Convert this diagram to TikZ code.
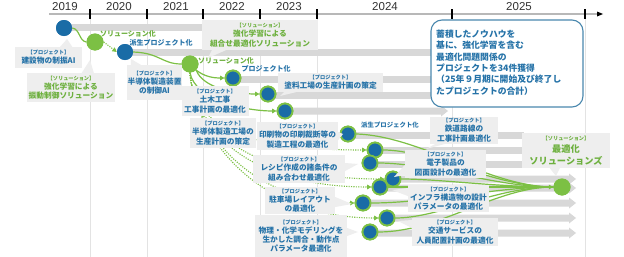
\documentclass[tikz,border=0pt]{standalone}
\usepackage{fontspec}
\setmainfont{Noto Sans CJK JP}
\newfontfamily\yearfont{Liberation Sans}
\usetikzlibrary{arrows.meta}
\definecolor{cblue}{HTML}{1A6CA6}
\definecolor{cgreen}{HTML}{7CC044}
\definecolor{tblue}{HTML}{2673A8}
\definecolor{tgreen}{HTML}{6DB03E}
\definecolor{boxgray}{HTML}{EEEEEE}
\definecolor{bargray}{HTML}{D8D8D8}
\definecolor{gridgray}{HTML}{E3E3E3}
\definecolor{axisgray}{HTML}{B8B8B8}
\definecolor{notecol}{HTML}{4A88AE}
\newcommand\hdr{\fontsize{5.2}{6}\selectfont}
\begin{document}
\begin{tikzpicture}[x=1pt,y=-1pt,
  gridline/.style={draw=gridgray,line width=1pt},
  axisline/.style={draw=axisgray,line width=1.8pt},
  tickmark/.style={draw=black,line width=1.4pt},
  yearlbl/.style={font=\yearfont\fontsize{11.5}{12}\selectfont,text=black!80,inner sep=0pt},
  bar/.style={fill=bargray},
  bcirc/.style={circle,fill=cblue,minimum size=16pt,inner sep=0pt},
  gcirc/.style={circle,fill=cgreen,minimum size=17pt,inner sep=0pt},
  pcirc/.style={circle,fill=cblue,draw=cgreen,line width=1.8pt,minimum size=15pt,inner sep=0pt},
  gline/.style={draw=cgreen,line width=1.2pt},
  gtip/.style={-{Triangle[length=4.5pt,width=4.5pt]}},
  gdot/.style={draw=cgreen,line width=1.1pt,dash pattern=on 1.1pt off 1.3pt},
  callp/.style={fill=boxgray,text=tblue,align=center,inner sep=0pt,font=\fontsize{7.7}{9.2}\selectfont\bfseries},
  calls/.style={callp,text=tgreen},
  ptr/.style={fill=boxgray},
  notebox/.style={draw=notecol,line width=1.1pt,rounded corners=11pt,fill=white,minimum width=152pt,minimum height=87pt,inner sep=0pt},
  notetxt/.style={text=tblue,align=left,inner sep=0pt,font=\fontsize{8.8}{11.4}\selectfont\bfseries},
  gtext/.style={text=tgreen,font=\fontsize{7}{8}\selectfont\bfseries,inner sep=0pt},
  btext/.style={text=tblue,font=\fontsize{7}{8}\selectfont\bfseries,inner sep=0pt}
]
\useasboundingbox (0,0) rectangle (624,257);
\fill[white] (0,0) rectangle (624,257);

% grid and axis
\foreach \x in {90,147,203,260,317,452,585} \draw[gridline] (\x,14) -- (\x,257);
\draw[axisline] (49,14) -- (598,14);
\fill[black] (597,11.5) -- (603,14) -- (597,16.5) -- cycle;
\foreach \x in {90,147,203,260,317,452,585} \draw[tickmark] (\x,9) -- (\x,19);
\node[yearlbl] (y2019) at (65,7) {2019};
\node[yearlbl] (y2020) at (119,7) {2020};
\node[yearlbl] (y2021) at (176,7) {2021};
\node[yearlbl] (y2022) at (232,7) {2022};
\node[yearlbl] (y2023) at (289,7) {2023};
\node[yearlbl] (y2024) at (385,7) {2024};
\node[yearlbl] (y2025) at (519,7) {2025};

% gray bars
\foreach \xa/\xb/\yy in {64/260/27, 125/434/52, 233/434/79, 268/434/95, 348/524/135, 375/524/150, 370/524/164}
  \fill[bar] (\xa,\yy-3.5) rectangle (\xb,\yy+3.5);
\foreach \xa/\xb/\yy in {285/441/111, 393/569/179, 380/569/188, 363/569/203, 387/569/218, 370/569/233}
  \fill[bar] (\xa,\yy-3.5) -- (\xb,\yy-3.5) -- (\xb,\yy-5.5) -- (\xb+7,\yy) -- (\xb,\yy+5.5) -- (\xb,\yy+3.5) -- (\xa,\yy+3.5) -- cycle;

% circles (nodes)
\node[bcirc] (c0) at (64,28) {};
\node[gcirc] (g1) at (95,42) {};
\node[bcirc] (c1) at (125,52) {};
\node[gcirc] (g2) at (190,64) {};
\node[pcirc] (p1) at (233,78) {};
\node[pcirc] (p2) at (268,94) {};
\node[pcirc] (p3) at (285,111) {};
\node[pcirc] (p4) at (348,134) {};
\node[pcirc] (p5) at (375,150) {};
\node[pcirc] (p6) at (370,163) {};
\node[pcirc] (p7) at (393,179) {};
\node[pcirc] (p8) at (380,187) {};
\node[pcirc] (p9) at (363,203) {};
\node[pcirc] (p10) at (387,218) {};
\node[pcirc] (p11) at (370,232) {};
\node[gcirc] (fin) at (562,187) {};

% connectors (behind circles)
\begin{scope}[on background layer/.style={}]
\end{scope}
\draw[gline] (c0.east) .. controls (80,29) and (79,41) .. (g1.west);
\draw[gdot,gtip] (g1.east) -- (c1.west);
\draw[gline] (c1.east) .. controls (160,53) and (162,64) .. (g2.west);
\draw[gline,gtip] (g2.south east) .. controls (205,77) and (214,78) .. (p1.west);
\draw[gline,gtip] (g2.south east) .. controls (203,88) and (235,94) .. (p2.west);
\draw[gline,gtip] (g2.south) .. controls (195,100) and (245,111) .. (p3.west);
\foreach \t/\ty in {p5/150,p7/179,p8/187,p9/203,p10/218}
  \draw[gdot,gtip] (g2.south) .. controls (194,130) and (250,\ty) .. (\t.west);
\draw[gline] (p4.east) .. controls (420,136) and (490,187) .. (fin.west);
\draw[gline] (p5.east) .. controls (430,150) and (495,187) .. (fin.west);
\draw[gline] (p6.east) .. controls (430,163) and (495,187) .. (fin.west);
\draw[gline] (p7.east) .. controls (440,179) and (495,187) .. (fin.west);
\draw[gline,gtip] (p8.east) -- (fin.west);
\draw[gline] (p9.east) .. controls (430,203) and (495,187) .. (fin.west);
\draw[gline] (p10.east) .. controls (440,218) and (495,187) .. (fin.west);
\draw[gline] (p11.east) .. controls (440,232) and (495,187) .. (fin.west);

% redraw circles on top of lines
\foreach \n/\s in {c0/bcirc,g1/gcirc,c1/bcirc,g2/gcirc,fin/gcirc}
  \node[\s] at (\n.center) {};
\foreach \n in {p1,p2,p3,p4,p5,p6,p7,p8,p9,p10,p11}
  \node[pcirc] at (\n.center) {};

% small labels
\node[gtext] (t1) at (128,34) {ソリューション化};
\node[btext] (t2) at (161,43) {派生プロジェクト化};
\node[gtext] (t3) at (226,61) {ソリューション化};
\node[btext] (t4) at (266,69) {プロジェクト化};
\node[btext,font=\fontsize{6.4}{7}\selectfont\bfseries] (t5) at (390,125) {派生プロジェクト化};

% callouts
\node[callp,minimum width=67pt,minimum height=21pt] (b1) at (48.5,57.5) {{\hdr【プロジェクト】}\\建設物の制振AI};
\fill[ptr] ([xshift=-22pt]b1.north east) -- (67,39) -- ([xshift=-10pt]b1.north east) -- cycle;

\node[calls,minimum width=88pt,minimum height=29pt] (b2) at (71,87.5) {{\hdr【ソリューション】}\\強化学習による\\振動制御ソリューション};
\fill[ptr] ([xshift=55pt]b2.north west) -- (90,60) -- ([xshift=67pt]b2.north west) -- cycle;

\node[callp,minimum width=55pt,minimum height=35pt] (b3) at (154.5,82.5) {{\hdr【プロジェクト】}\\半導体製造装置\\の制御AI};
\fill[ptr] ([xshift=4pt]b3.north west) -- (131,59) -- ([xshift=14pt]b3.north west) -- cycle;

\node[calls,minimum width=116pt,minimum height=30pt] (b4) at (260,35) {{\hdr【ソリューション】}\\強化学習による\\組合せ最適化ソリューション};
\fill[ptr] ([xshift=10pt]b4.south west) -- (208,58) -- ([xshift=24pt]b4.south west) -- cycle;

\node[callp,minimum width=105pt,minimum height=19pt] (b5) at (330.5,82.5) {{\hdr【プロジェクト】}\\塗料工場の生産計画の策定};
\fill[ptr] ([xshift=6pt]b5.south west) -- (280,96) -- ([xshift=18pt]b5.south west) -- cycle;

\node[callp,minimum width=67pt,minimum height=30pt] (b6) at (215,101) {{\hdr【プロジェクト】}\\土木工事\\工事計画の最適化};

\node[callp,minimum width=66pt,minimum height=30pt] (b7) at (223,133) {{\hdr【プロジェクト】}\\半導体製造工場の\\生産計画の策定};

\node[callp,minimum width=81pt,minimum height=28pt] (b8) at (297.5,136) {{\hdr【プロジェクト】}\\印刷物の印刷裁断等の\\製造工程の最適化};
\fill[ptr] ([yshift=4pt]b8.east) -- (343,134) -- ([yshift=-4pt]b8.east) -- cycle;

\node[callp,minimum width=92pt,minimum height=28pt] (b9) at (299,169) {{\hdr【プロジェクト】}\\レシピ作成の諸条件の\\組み合わせ最適化};
\fill[ptr] ([yshift=6pt]b9.east) -- (358,164) -- ([yshift=-2pt]b9.east) -- cycle;

\node[callp,minimum width=70pt,minimum height=27pt] (b10) at (300,200.5) {{\hdr【プロジェクト】}\\駐車場レイアウト\\の最適化};
\fill[ptr] ([yshift=3.5pt]b10.east) -- (352,204) -- ([yshift=-6.5pt]b10.east) -- cycle;

\node[callp,minimum width=92pt,minimum height=42pt] (b11) at (301,236) {{\hdr【プロジェクト】}\\物理・化学モデリングを\\生かした調合・動作点\\パラメータ最適化};
\fill[ptr] ([yshift=8pt]b11.east) -- (358,232) -- ([yshift=0pt]b11.east) -- cycle;

\node[callp,minimum width=68pt,minimum height=27pt] (b12) at (464,130) {{\hdr【プロジェクト】}\\鉄道路線の\\工事計画最適化};
\fill[ptr] ([xshift=6pt]b12.south west) -- (426,149) -- ([xshift=16pt]b12.south west) -- cycle;

\node[callp,minimum width=81pt,minimum height=28pt] (b13) at (445.5,164) {{\hdr【プロジェクト】}\\電子製品の\\図面設計の最適化};
\fill[ptr] ([yshift=-1pt]b13.west) -- (394,177) -- ([yshift=-11pt]b13.west) -- cycle;

\node[callp,minimum width=81pt,minimum height=27pt] (b14) at (448.5,198.5) {{\hdr【プロジェクト】}\\インフラ構造物の設計\\パラメータの最適化};
\fill[ptr] ([yshift=10.5pt]b14.west) -- (392,190) -- ([yshift=2.5pt]b14.west) -- cycle;

\node[callp,minimum width=86pt,minimum height=28pt] (b15) at (455,232) {{\hdr【プロジェクト】}\\交通サービスの\\人員配置計画の最適化};
\fill[ptr] ([yshift=12pt]b15.west) -- (398,221) -- ([yshift=4pt]b15.west) -- cycle;

\node[calls,minimum width=88pt,minimum height=35pt,font=\fontsize{9.2}{12}\selectfont\bfseries] (b16) at (566,150.5) {{\hdr【ソリューション】}\\最適化\\ソリューションズ};
\fill[ptr] ([xshift=28pt]b16.south west) -- (556,176) -- ([xshift=38pt]b16.south west) -- cycle;

% note box
\node[notebox] (note) at (507,63.5) {};
\node[notetxt,anchor=north west] (notetext) at (436,29.5) {蓄積したノウハウを\\基に、強化学習を含む\\最適化問題関係の\\プロジェクトを34件獲得\\（25年９月期に開始及び終了し\\たプロジェクトの合計）};
\end{tikzpicture}
\end{document}
